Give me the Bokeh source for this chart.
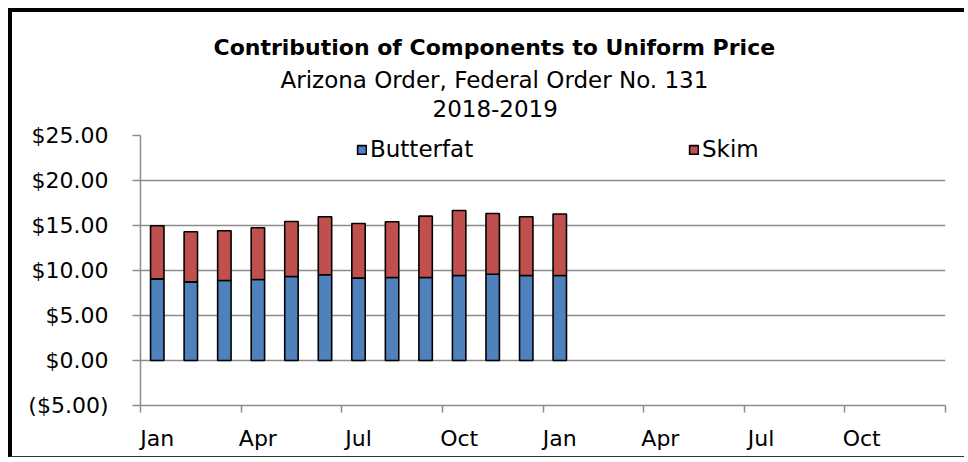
from bokeh.plotting import figure
from bokeh.models import (FixedTicker, Legend, LegendItem, Title, ColumnDataSource, Range1d,
                          LinearAxis)
from bokeh.embed import file_html
from bokeh.resources import INLINE

# ---- data ----
months = ["Jan 2018", "Feb 2018", "Mar 2018", "Apr 2018", "May 2018", "Jun 2018",
          "Jul 2018", "Aug 2018", "Sep 2018", "Oct 2018", "Nov 2018", "Dec 2018", "Jan 2019"]
butterfat = [9.07, 8.74, 8.89, 9.00, 9.33, 9.52, 9.15, 9.22, 9.22, 9.44, 9.59, 9.44, 9.44]
skim = [5.90, 5.56, 5.52, 5.75, 6.12, 6.45, 6.08, 6.19, 6.82, 7.23, 6.75, 6.53, 6.83]
axis_month_labels = ["Jan", "Apr", "Jul", "Oct", "Jan", "Apr", "Jul", "Oct"]
y_ticks = [-5, 0, 5, 10, 15, 20, 25]
n_axis_months = 24
series = ["Butterfat", "Skim"]
colors = ["#4F81BD", "#C0504D"]
title_lines = ["Contribution of Components to Uniform Price",
               "Arizona Order, Federal Order No. 131",
               "2018-2019"]

FONT = "DejaVu Sans"
GRAY = "#8C8C8C"

src = ColumnDataSource(dict(
    x=[i + 0.5 for i in range(len(months))],
    month=months,
    Butterfat=butterfat,
    Skim=skim,
))

p = figure(width=956, height=449, output_backend="svg", toolbar_location=None,
           x_range=Range1d(0, n_axis_months), y_range=Range1d(y_ticks[0], y_ticks[-1]),
           min_border_left=128, min_border_right=23, min_border_top=123, min_border_bottom=56)
p.styles = {"margin-left": "8px", "margin-top": "8px",
            "border-top": "4px solid black", "border-left": "4px solid black",
            "border-bottom": "1px solid #333333"}
p.outline_line_color = None
p.background_fill_color = "white"
p.border_fill_color = "white"

rs = p.vbar_stack(series, x="x", width=0.4, color=colors, line_color="black",
                  line_width=1.6, source=src)

# x axis: minor ticks at quarter boundaries, labels at month centres
xa = p.xaxis[0]
xa.ticker = FixedTicker(ticks=[3 * k + 0.5 for k in range(len(axis_month_labels))],
                        minor_ticks=[3 * k for k in range(len(axis_month_labels) + 1)])
xa.major_label_overrides = {3 * k + 0.5: lab for k, lab in enumerate(axis_month_labels)}
xa.major_tick_line_color = None
xa.major_tick_out = 0
xa.major_tick_in = 0
xa.minor_tick_out = 7
xa.minor_tick_in = 0
xa.minor_tick_line_color = GRAY
xa.minor_tick_line_width = 1.5
xa.axis_line_color = GRAY
xa.axis_line_width = 1.5
xa.major_label_text_font = FONT
xa.major_label_text_font_size = "22px"
xa.major_label_text_color = "black"
xa.major_label_standoff = 13


def fmt(v):
    return "(${:.2f})".format(-v) if v < 0 else "${:.2f}".format(v)


ya = p.yaxis[0]
ya.ticker = FixedTicker(ticks=y_ticks, minor_ticks=[])
ya.major_label_overrides = {t: fmt(t) for t in y_ticks}
ya.major_tick_out = 8
ya.major_tick_in = 0
ya.major_tick_line_color = GRAY
ya.major_tick_line_width = 1.5
ya.axis_line_color = GRAY
ya.axis_line_width = 1.5
ya.major_label_text_font = FONT
ya.major_label_text_font_size = "22px"
ya.major_label_text_color = "black"
ya.major_label_standoff = 24

p.xgrid.visible = False
p.ygrid.ticker = FixedTicker(ticks=y_ticks, minor_ticks=[])
p.ygrid.grid_line_color = GRAY
p.ygrid.grid_line_width = 1.5

for r, name, lx in zip(rs, series, [216, 548]):
    leg = Legend(items=[LegendItem(label=name, renderers=[r])], location=(lx, 243),
                 orientation="horizontal", border_line_color=None, background_fill_alpha=0,
                 padding=0, margin=0, glyph_width=11, glyph_height=11, label_standoff=3,
                 label_text_font=FONT, label_text_font_size="23px", label_text_color="black")
    p.add_layout(leg)

# invisible spacer between the title block and the plot frame (white tick on white)
spacer = LinearAxis(ticker=FixedTicker(ticks=[n_axis_months], minor_ticks=[]),
                    axis_line_color=None,
                    major_tick_line_color="white", minor_tick_line_color=None,
                    major_tick_out=16, major_tick_in=0, minor_tick_out=0, minor_tick_in=0,
                    major_label_standoff=0, major_label_text_font_size="1px",
                    major_label_text_color="white",
                    major_label_overrides={n_axis_months: ""})
p.add_layout(spacer, "above")

# titles: bottom line first (stacked outward), left-aligned with offsets to centre them
title_specs = list(zip(title_lines, [True, False, False], ["22px", "23px", "23px"],
                       [73, 140, 292]))
for line, bold, size, off in reversed(title_specs):
    p.add_layout(Title(text=line, align="left", offset=off, text_font=FONT,
                       text_font_size=size,
                       text_font_style="bold" if bold else "normal", text_color="black",
                       standoff=5, text_line_height=1.0), "above")

open("out.html", "w").write(file_html(p, INLINE))
